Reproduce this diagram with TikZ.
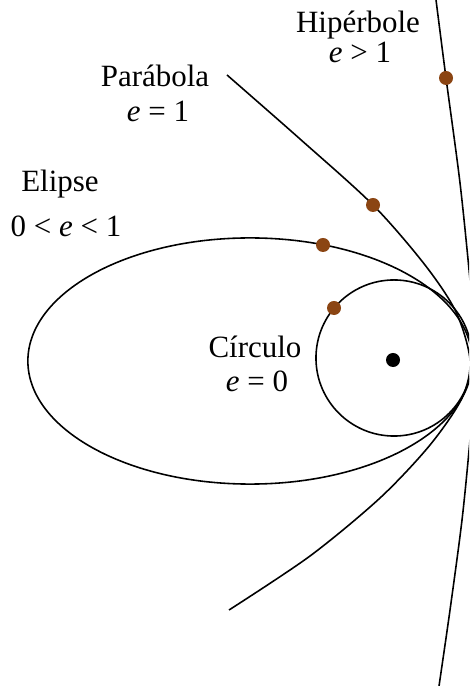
\documentclass[tikz,border=0pt]{standalone}
\usepackage{fontspec}
\setmainfont{Liberation Serif}
\definecolor{orbitbrown}{RGB}{139,69,19}
\tikzset{
  conic/.style={line width=0.45pt},
  planet/.style={circle,fill=orbitbrown,inner sep=0pt,minimum size=0.14cm},
  sun/.style={circle,fill=black,inner sep=0pt,minimum size=0.14cm},
  txt/.style={anchor=base,inner sep=0pt}
}
\begin{document}
\begin{tikzpicture}[x=0.01cm,y=-0.01cm,font=\fontsize{8.8}{10}\selectfont]
  \useasboundingbox (0,0) rectangle (469,686);
  \begin{scope}
    \clip (0,0) rectangle (469,686);
    % elipse y circulo
    \draw[conic] (250,361) ellipse [x radius=2.22cm, y radius=1.23cm];
    \draw[conic] (394,358) circle [radius=0.78cm];
    % parabola
    \draw[conic] plot[smooth] coordinates {(227,75) (300,139) (373,205)
      (425,265) (456,312) (470,360) (462,398) (430,445) (380,498)
      (310,556) (229,610)};
    % hiperbola
    \draw[conic] plot[smooth] coordinates {(436,0) (446,78) (460,183)
      (470,280) (477,360) (470,440) (462,520) (450,610) (439,686)};
  \end{scope}
  \node[sun] (focus) at (393,360) {};
  \node[planet] (pcirc) at (334,308) {};
  \node[planet] (pelip) at (323,245) {};
  \node[planet] (ppara) at (373,205) {};
  \node[planet] (phyp) at (446,78) {};
  % textos
  \node[txt] (hyp) at (358,33) {Hipérbole};
  \node[txt] (hype) at (360,63) {\textit{e} > 1};
  \node[txt] (para) at (155,87) {Parábola};
  \node[txt] (parae) at (158,122) {\textit{e} = 1};
  \node[txt] (elip) at (60,192) {Elipse};
  \node[txt] (elipe) at (66,237) {0 < \textit{e} < 1};
  \node[txt] (circ) at (255,358) {Círculo};
  \node[txt] (circe) at (257,392) {\textit{e} = 0};
\end{tikzpicture}
\end{document}
